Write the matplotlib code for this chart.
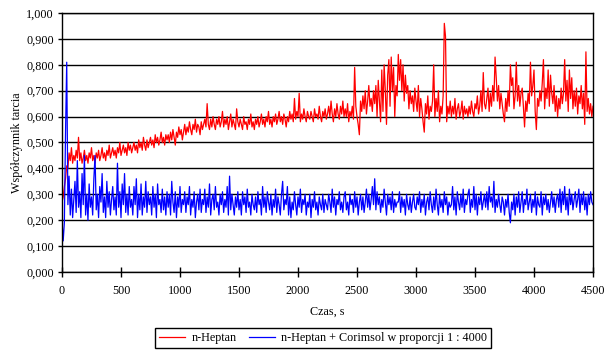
import matplotlib
matplotlib.use("Agg")
import matplotlib.pyplot as plt
import numpy as np
from matplotlib.ticker import FuncFormatter, MultipleLocator

# sampling grid, s
czas = np.arange(0, 4501, 10)

# n-Heptan (every 10 s)
heptan = [
    0.27, 0.29, 0.33, 0.36, 0.41, 0.40, 0.46, 0.43, 0.48, 0.42, 0.45, 0.43, 0.47, 0.44, 0.52,
    0.43, 0.46, 0.42, 0.44, 0.47, 0.43, 0.45, 0.42, 0.46, 0.44, 0.48, 0.43, 0.45, 0.42, 0.46,
    0.44, 0.47, 0.43, 0.45, 0.48, 0.44, 0.46, 0.43, 0.47, 0.45, 0.49, 0.44, 0.46, 0.48, 0.45,
    0.47, 0.44, 0.48, 0.46, 0.50, 0.45, 0.47, 0.49, 0.46, 0.48, 0.45, 0.50, 0.47, 0.49, 0.46,
    0.48, 0.50, 0.47, 0.49, 0.46, 0.51, 0.48, 0.50, 0.47, 0.52, 0.49, 0.47, 0.51, 0.48, 0.50,
    0.52, 0.49, 0.51, 0.48, 0.53, 0.50, 0.52, 0.49, 0.51, 0.54, 0.50, 0.52, 0.49, 0.53, 0.51,
    0.53, 0.50, 0.54, 0.51, 0.55, 0.52, 0.49, 0.54, 0.52, 0.56, 0.53, 0.55, 0.51, 0.54, 0.57,
    0.53, 0.56, 0.54, 0.58, 0.55, 0.53, 0.57, 0.55, 0.59, 0.54, 0.57, 0.56, 0.53, 0.58, 0.55,
    0.57, 0.59, 0.56, 0.65, 0.57, 0.55, 0.59, 0.56, 0.60, 0.57, 0.55, 0.59, 0.57, 0.60, 0.56,
    0.58, 0.62, 0.56, 0.59, 0.57, 0.60, 0.55, 0.58, 0.61, 0.56, 0.59, 0.57, 0.55, 0.63, 0.58,
    0.56, 0.59, 0.57, 0.55, 0.60, 0.57, 0.58, 0.55, 0.59, 0.57, 0.61, 0.56, 0.58, 0.55, 0.59,
    0.57, 0.60, 0.56, 0.58, 0.61, 0.57, 0.59, 0.56, 0.60, 0.58, 0.62, 0.57, 0.59, 0.56, 0.60,
    0.58, 0.61, 0.57, 0.59, 0.62, 0.58, 0.60, 0.57, 0.61, 0.59, 0.56, 0.60, 0.58, 0.62, 0.59,
    0.61, 0.58, 0.67, 0.59, 0.62, 0.60, 0.69, 0.58, 0.61, 0.59, 0.63, 0.60, 0.58, 0.62, 0.60,
    0.59, 0.62, 0.60, 0.58, 0.63, 0.60, 0.61, 0.59, 0.64, 0.60, 0.58, 0.62, 0.60, 0.63, 0.59,
    0.61, 0.64, 0.60, 0.66, 0.61, 0.58, 0.63, 0.60, 0.65, 0.61, 0.59, 0.64, 0.61, 0.66, 0.60,
    0.63, 0.60, 0.65, 0.58, 0.62, 0.60, 0.64, 0.59, 0.79, 0.64, 0.60, 0.57, 0.53, 0.66, 0.62,
    0.68, 0.63, 0.70, 0.61, 0.66, 0.72, 0.64, 0.67, 0.62, 0.70, 0.65, 0.72, 0.60, 0.74, 0.66,
    0.58, 0.78, 0.62, 0.80, 0.70, 0.57, 0.76, 0.82, 0.64, 0.83, 0.70, 0.79, 0.60, 0.72, 0.68,
    0.84, 0.74, 0.82, 0.70, 0.80, 0.66, 0.76, 0.69, 0.72, 0.63, 0.70, 0.65, 0.68, 0.62, 0.71,
    0.66, 0.62, 0.72, 0.60, 0.67, 0.63, 0.58, 0.54, 0.65, 0.61, 0.68, 0.59, 0.64, 0.62, 0.66,
    0.80, 0.60, 0.67, 0.62, 0.70, 0.58, 0.64, 0.61, 0.68, 0.96, 0.91, 0.58, 0.64, 0.61, 0.66,
    0.60, 0.64, 0.61, 0.67, 0.59, 0.63, 0.65, 0.60, 0.62, 0.66, 0.59, 0.64, 0.61, 0.63, 0.60,
    0.64, 0.61, 0.66, 0.62, 0.60, 0.65, 0.63, 0.68, 0.61, 0.64, 0.70, 0.62, 0.77, 0.65, 0.63,
    0.67, 0.71, 0.62, 0.69, 0.64, 0.72, 0.66, 0.83, 0.75, 0.66, 0.72, 0.63, 0.69, 0.65, 0.61,
    0.58, 0.67, 0.62, 0.70, 0.64, 0.80, 0.72, 0.75, 0.63, 0.68, 0.81, 0.66, 0.72, 0.64, 0.69,
    0.71, 0.64, 0.56, 0.66, 0.62, 0.69, 0.65, 0.81, 0.68, 0.72, 0.78, 0.62, 0.55, 0.67, 0.64,
    0.70, 0.66, 0.73, 0.82, 0.63, 0.71, 0.67, 0.78, 0.64, 0.76, 0.69, 0.65, 0.72, 0.62, 0.68,
    0.60, 0.67, 0.63, 0.71, 0.65, 0.69, 0.82, 0.66, 0.74, 0.62, 0.78, 0.67, 0.75, 0.63, 0.70,
    0.64, 0.71, 0.61, 0.68, 0.65, 0.72, 0.63, 0.69, 0.57, 0.85, 0.62, 0.67, 0.61, 0.65, 0.60,
    0.64,
]

# n-Heptan + Corimsol 1:4000
corimsol = [
    0.20, 0.12, 0.19, 0.54, 0.81, 0.26, 0.37, 0.22, 0.32, 0.21, 0.28, 0.35, 0.23, 0.43, 0.25,
    0.31, 0.21, 0.38, 0.26, 0.45, 0.22, 0.30, 0.20, 0.34, 0.25, 0.29, 0.22, 0.36, 0.45, 0.24,
    0.30, 0.21, 0.33, 0.27, 0.38, 0.23, 0.29, 0.21, 0.35, 0.25, 0.31, 0.22, 0.28, 0.33, 0.24,
    0.29, 0.22, 0.42, 0.25, 0.31, 0.21, 0.34, 0.26, 0.38, 0.23, 0.30, 0.22, 0.33, 0.25, 0.28,
    0.22, 0.33, 0.26, 0.36, 0.21, 0.30, 0.24, 0.34, 0.22, 0.29, 0.25, 0.35, 0.23, 0.31, 0.26,
    0.29, 0.22, 0.33, 0.25, 0.30, 0.21, 0.34, 0.26, 0.28, 0.23, 0.32, 0.24, 0.29, 0.22, 0.31,
    0.25, 0.30, 0.22, 0.35, 0.27, 0.23, 0.31, 0.21, 0.29, 0.25, 0.33, 0.23, 0.28, 0.26, 0.31,
    0.23, 0.29, 0.26, 0.33, 0.22, 0.28, 0.25, 0.31, 0.21, 0.27, 0.30, 0.24, 0.32, 0.23, 0.28,
    0.26, 0.32, 0.23, 0.29, 0.25, 0.34, 0.22, 0.28, 0.30, 0.24, 0.33, 0.25, 0.27, 0.22, 0.30,
    0.26, 0.31, 0.23, 0.28, 0.25, 0.33, 0.22, 0.37, 0.24, 0.30, 0.26, 0.22, 0.29, 0.25, 0.31,
    0.24, 0.28, 0.22, 0.31, 0.26, 0.29, 0.23, 0.32, 0.25, 0.27, 0.22, 0.30, 0.26, 0.24, 0.29,
    0.23, 0.31, 0.26, 0.28, 0.22, 0.33, 0.25, 0.29, 0.23, 0.31, 0.27, 0.24, 0.30, 0.22, 0.28,
    0.25, 0.32, 0.23, 0.29, 0.26, 0.22, 0.30, 0.35, 0.24, 0.28, 0.26, 0.33, 0.22, 0.29, 0.21,
    0.27, 0.24, 0.31, 0.26, 0.22, 0.29, 0.25, 0.32, 0.23, 0.28, 0.26, 0.30, 0.22, 0.27, 0.25,
    0.30, 0.21, 0.28, 0.25, 0.31, 0.24, 0.27, 0.22, 0.29, 0.26, 0.24, 0.30, 0.23, 0.28, 0.26,
    0.24, 0.30, 0.27, 0.23, 0.32, 0.25, 0.29, 0.22, 0.28, 0.26, 0.31, 0.24, 0.27, 0.23, 0.29,
    0.31, 0.24, 0.27, 0.22, 0.30, 0.26, 0.28, 0.23, 0.31, 0.25, 0.29, 0.22, 0.27, 0.30, 0.24,
    0.29, 0.23, 0.27, 0.32, 0.25, 0.30, 0.24, 0.28, 0.33, 0.26, 0.36, 0.24, 0.31, 0.26, 0.29,
    0.23, 0.28, 0.25, 0.32, 0.27, 0.22, 0.30, 0.26, 0.29, 0.24, 0.31, 0.23, 0.28, 0.25, 0.27,
    0.27, 0.31, 0.23, 0.29, 0.25, 0.28, 0.22, 0.30, 0.26, 0.24, 0.29, 0.23, 0.27, 0.30, 0.25,
    0.24, 0.29, 0.26, 0.31, 0.23, 0.28, 0.25, 0.30, 0.22, 0.27, 0.29, 0.24, 0.31, 0.26, 0.23,
    0.29, 0.24, 0.32, 0.26, 0.22, 0.30, 0.25, 0.28, 0.23, 0.31, 0.26, 0.29, 0.22, 0.27, 0.25,
    0.26, 0.33, 0.24, 0.29, 0.22, 0.31, 0.27, 0.24, 0.30, 0.25, 0.32, 0.23, 0.28, 0.26, 0.30,
    0.32, 0.23, 0.28, 0.25, 0.33, 0.24, 0.30, 0.22, 0.29, 0.26, 0.31, 0.24, 0.27, 0.30, 0.25,
    0.31, 0.24, 0.33, 0.27, 0.29, 0.25, 0.35, 0.23, 0.28, 0.25, 0.30, 0.26, 0.23, 0.29, 0.27,
    0.22, 0.28, 0.25, 0.30, 0.23, 0.19, 0.27, 0.24, 0.30, 0.22, 0.29, 0.25, 0.31, 0.23, 0.27,
    0.31, 0.23, 0.28, 0.26, 0.32, 0.24, 0.27, 0.30, 0.23, 0.28, 0.25, 0.31, 0.22, 0.29, 0.26,
    0.25, 0.31, 0.22, 0.29, 0.26, 0.30, 0.24, 0.28, 0.23, 0.27, 0.31, 0.25, 0.29, 0.23, 0.28,
    0.30, 0.25, 0.32, 0.23, 0.31, 0.26, 0.33, 0.24, 0.29, 0.22, 0.32, 0.26, 0.30, 0.24, 0.28,
    0.31, 0.25, 0.28, 0.32, 0.23, 0.30, 0.26, 0.31, 0.24, 0.29, 0.22, 0.30, 0.26, 0.31, 0.27,
    0.26,
]

plt.rcParams['font.family'] = ['Liberation Serif', 'DejaVu Serif']
plt.rcParams['font.size'] = 8.7

fig = plt.figure(figsize=(6.10, 3.55), dpi=100)
ax = fig.add_axes([62 / 610, 83 / 355, 531 / 610, 259 / 355])

ax.plot(czas, heptan, color='#ff0000', lw=0.9, label='n-Heptan')
ax.plot(czas, corimsol, color='#0000ff', lw=0.9,
        label='n-Heptan + Corimsol w proporcji 1 : 4000')

ax.set_xlim(0, 4500)
ax.set_ylim(0, 1.0)
ax.xaxis.set_major_locator(MultipleLocator(500))
ax.yaxis.set_major_locator(MultipleLocator(0.1))
ax.yaxis.set_major_formatter(FuncFormatter(lambda v, p: f"{v:.3f}".replace('.', ',')))
ax.grid(axis='y', color='black', lw=1.0)
ax.set_axisbelow(True)
ax.tick_params(axis='x', direction='inout', length=7, width=1, pad=6)
ax.tick_params(axis='y', direction='out', length=3, width=1, pad=3)
for s in ax.spines.values():
    s.set_linewidth(1.0)

ax.set_xlabel('Czas, s', labelpad=6)
ax.set_ylabel('Współczynnik tarcia', labelpad=2)

fig.legend(loc='center', bbox_to_anchor=(323 / 610, 17 / 355), ncol=2,
           frameon=True, fancybox=False, edgecolor='black', framealpha=1,
           handlelength=2.2, columnspacing=1.0, handletextpad=0.5,
           borderpad=0.35)

fig.savefig('out.png', dpi=100)
